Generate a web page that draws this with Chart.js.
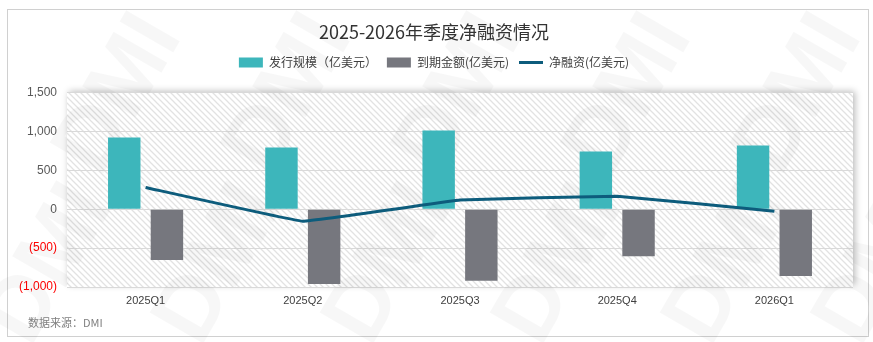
<!DOCTYPE html>
<html>
<head>
<meta charset="utf-8">
<script src="https://cdn.jsdelivr.net/npm/chart.js@4"></script>
<style>
  html, body { margin: 0; padding: 0; background: #fff; }
  #wrap { width: 873px; height: 342px; }
</style>
</head>
<body>
<div id="wrap"><canvas id="netChart" width="873" height="342"></canvas></div>
<script>
// quarterly data (亿美元)
const quarters = ['2025Q1', '2025Q2', '2025Q3', '2025Q4', '2026Q1'];
const issuance = [923, 795, 1013, 744, 821];
const maturity = [-654, -962, -920, -603, -859];
const netFinancing = [280, -154, 118, 167, -26];
const yTicks = [1500, 1000, 500, 0, -500, -1000];

const CJK = '"Noto Sans CJK SC", "Noto Sans", sans-serif';
const NUM = '"Liberation Sans", Arial, sans-serif';

// diagonal hatch used behind the plot
function makeHatch() {
    const c = document.createElement('canvas');
    c.width = 6; c.height = 6;
    const g = c.getContext('2d');
    g.strokeStyle = '#e2e2e2';
    g.lineWidth = 1.3;
    g.beginPath();
    g.moveTo(-1, -1); g.lineTo(7, 7);
    g.moveTo(-1, 5); g.lineTo(1, 7);
    g.moveTo(5, -1); g.lineTo(7, 1);
    g.stroke();
    return c;
}

const backdrop = {
    id: 'backdrop',
    beforeDraw(chart) {
        const { ctx, chartArea: a } = chart;
        ctx.save();
        ctx.fillStyle = '#fff';
        ctx.fillRect(0, 0, chart.width, chart.height);
        // outer frame
        ctx.strokeStyle = '#d0d0d0';
        ctx.lineWidth = 1;
        ctx.strokeRect(7.5, 9.5, 861, 327);
        // plot panel with soft shadow
        ctx.shadowColor = 'rgba(0,0,0,0.28)';
        ctx.shadowBlur = 7;
        ctx.shadowOffsetX = 2;
        ctx.shadowOffsetY = -2;
        ctx.fillStyle = '#fff';
        ctx.fillRect(a.left, a.top, a.right - a.left, a.bottom - a.top);
        ctx.shadowColor = 'transparent';
        ctx.fillStyle = ctx.createPattern(makeHatch(), 'repeat');
        ctx.fillRect(a.left, a.top, a.right - a.left, a.bottom - a.top);
        ctx.restore();
    },
    beforeDatasetsDraw(chart) {
        // faint DMI watermarks
        const { ctx } = chart;
        const spots = [
            [120, 95], [290, 95], [460, 95], [630, 95], [800, 95],
            [50, 265], [220, 265], [390, 265], [560, 265], [730, 265], [880, 265]
        ];
        ctx.save();
        ctx.fillStyle = 'rgba(0,0,0,0.03)';
        ctx.font = 'bold 90px ' + NUM;
        ctx.textAlign = 'center';
        ctx.textBaseline = 'middle';
        spots.forEach(([x, y]) => {
            ctx.save();
            ctx.translate(x, y);
            ctx.rotate(-Math.PI / 3);
            ctx.fillText('DMI', 0, 0);
            ctx.restore();
        });
        ctx.restore();
    },
    afterDraw(chart) {
        const { ctx } = chart;
        ctx.save();
        ctx.fillStyle = '#7f7f7f';
        ctx.font = '11px ' + CJK;
        ctx.textBaseline = 'middle';
        ctx.fillText('数据来源：DMI', 28, 323);
        ctx.restore();
    }
};

const fmt = v => {
    const s = Math.abs(v).toLocaleString('en-US');
    return v < 0 ? '(' + s + ')' : s;
};

new Chart(document.getElementById('netChart'), {
    type: 'bar',
    data: {
        labels: quarters,
        datasets: [
            {
                type: 'line',
                label: '净融资(亿美元)',
                data: netFinancing,
                borderColor: '#0d5c7c',
                backgroundColor: '#0d5c7c',
                borderWidth: 3,
                pointRadius: 0,
                tension: 0.05,
                order: 0
            },
            {
                label: '发行规模（亿美元）',
                data: issuance,
                backgroundColor: '#3db6bb',
                categoryPercentage: 0.543,
                barPercentage: 0.76,
                order: 1
            },
            {
                label: '到期金额(亿美元)',
                data: maturity,
                backgroundColor: '#76777e',
                categoryPercentage: 0.543,
                barPercentage: 0.76,
                order: 1
            }
        ]
    },
    options: {
        responsive: false,
        animation: false,
        layout: { padding: { top: 21, left: 15, right: 20, bottom: 0 } },
        plugins: {
            title: {
                display: true,
                text: '2025-2026年季度净融资情况',
                color: '#333',
                font: { family: CJK, size: 18, weight: 'normal' },
                padding: { top: 0, bottom: 4 }
            },
            // empty spacer between legend and plot
            subtitle: {
                display: true,
                text: '',
                weight: 500,
                font: { size: 1, lineHeight: 1 },
                padding: { top: 13, bottom: 0 }
            },
            legend: {
                display: true,
                labels: {
                    usePointStyle: true,
                    pointStyleWidth: 24,
                    boxHeight: 10,
                    padding: 10,
                    color: '#404040',
                    font: { family: CJK, size: 12 },
                    generateLabels(chart) {
                        const order = [1, 2, 0];
                        return order.map(i => {
                            const ds = chart.data.datasets[i];
                            const isLine = ds.type === 'line';
                            return {
                                text: ds.label,
                                fillStyle: ds.backgroundColor,
                                strokeStyle: isLine ? ds.borderColor : ds.backgroundColor,
                                lineWidth: isLine ? 3 : 0,
                                pointStyle: isLine ? 'line' : 'rect',
                                fontColor: '#404040',
                                datasetIndex: i,
                                hidden: false
                            };
                        });
                    }
                }
            },
            tooltip: { enabled: false }
        },
        scales: {
            x: {
                grid: { display: false, drawTicks: false },
                border: { display: false },
                ticks: {
                    color: '#404040',
                    font: { family: NUM, size: 11 },
                    padding: 7
                },
                afterFit(scale) { scale.height = 55; }
            },
            y: {
                min: -1000,
                max: 1500,
                afterBuildTicks(scale) {
                    scale.ticks = yTicks.map(v => ({ value: v }));
                },
                grid: { color: '#d9d9d9', lineWidth: 1, drawTicks: false },
                border: { display: false },
                ticks: {
                    padding: 10,
                    font: { family: NUM, size: 12 },
                    color: ctx => ctx.tick.value < 0 ? '#ff0000' : '#595959',
                    callback: v => fmt(v)
                },
                afterFit(scale) { scale.width = 52; }
            }
        }
    },
    plugins: [backdrop]
});
</script>
</body>
</html>
